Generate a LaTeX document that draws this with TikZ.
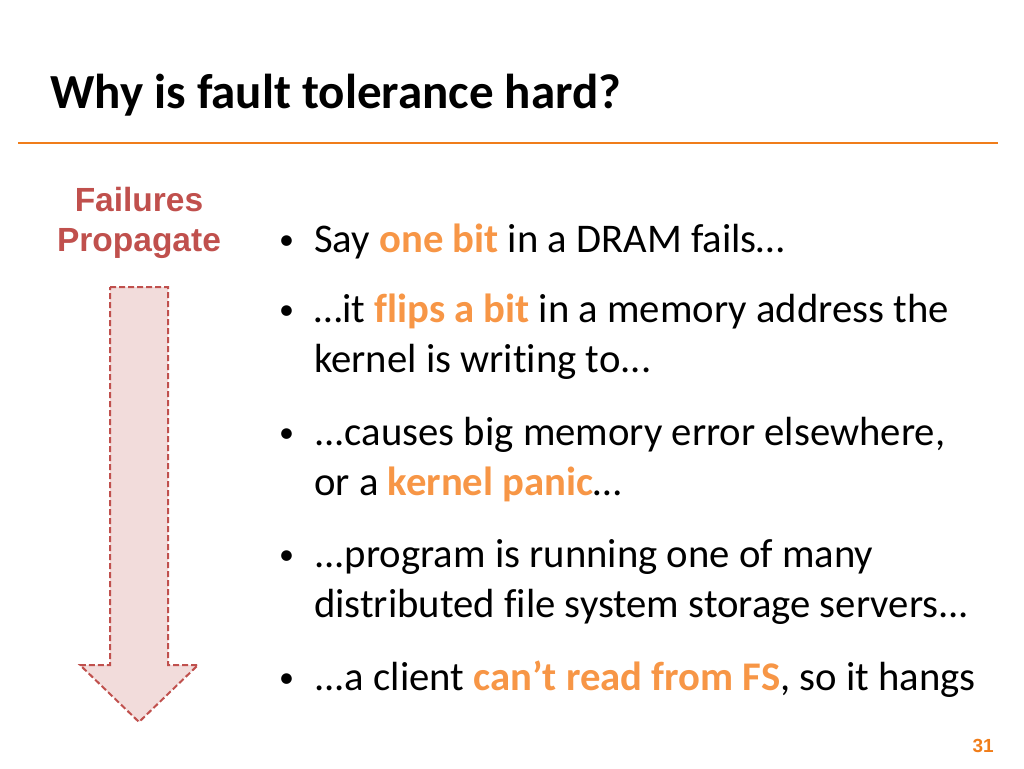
\documentclass[tikz,border=0pt]{standalone}
\usepackage{fontspec}
\setmainfont{Carlito}[Ligatures={NoCommon}]
\newfontfamily\arialf{Liberation Sans}
\definecolor{hl}{HTML}{F79646}
\definecolor{rule}{HTML}{F07D1A}
\definecolor{redt}{HTML}{C0504D}
\definecolor{pinkf}{HTML}{F2DCDB}
\begin{document}
\begin{tikzpicture}[x=1pt,y=-1pt,
  body/.style={anchor=base west,inner sep=0,font=\fontsize{40.7}{43}\selectfont},
  bul/.style={anchor=base west,inner sep=0,font=\fontsize{30}{43}\selectfont}]
\useasboundingbox (0,0) rectangle (1024,768);
\node[anchor=base west,inner sep=0,font=\fontsize{49}{50}\selectfont\bfseries] (title) at (50,108) {Why is fault tolerance hard?};
\draw[rule,line width=2pt] (18,143) coordinate (l1) -- (998,143) coordinate (l2);
\node[anchor=base,inner sep=0,text=redt,font=\arialf\fontsize{33.5}{40}\selectfont\bfseries] (fp1) at (139,211) {Failures};
\node[anchor=base,inner sep=0,text=redt,font=\arialf\fontsize{33.5}{40}\selectfont\bfseries] (fp2) at (139,251) {Propagate};
\draw[redt,dash pattern=on 6pt off 3pt,line width=2pt,fill=pinkf] (110,287) -- (168,287) -- (168,665) -- (198,665) -- (139,722) -- (80,665) -- (110,665) -- cycle;
\foreach \y/\n in {252/b1,322/b2,445/b3,567/b4,690/b5}{
  \node[bul] (\n) at (279,\y-3) {•};}
\node[body] (t1) at (314,252) {Say \textcolor{hl}{\bfseries one bit} in a DRAM fails…};
\node[body] (t2) at (314,322) {…it \textcolor{hl}{\bfseries flips a bit} in a memory address the};
\node[body] (t2b) at (314,372) {kernel is writing to...};
\node[body] (t3) at (314,445) {...causes big memory error elsewhere,};
\node[body] (t3b) at (314,495) {or a \textcolor{hl}{\bfseries kernel panic}…};
\node[body] (t4) at (314,567) {...program is running one of many};
\node[body] (t4b) at (314,617) {distributed file system storage servers...};
\node[body] (t5) at (314,690) {...a client \textcolor{hl}{\bfseries can’t read from FS}, so it hangs};
\node[anchor=base east,inner sep=0,text=rule,font=\arialf\fontsize{19}{20}\selectfont\bfseries] (pg) at (994,752) {31};
\end{tikzpicture}
\end{document}
